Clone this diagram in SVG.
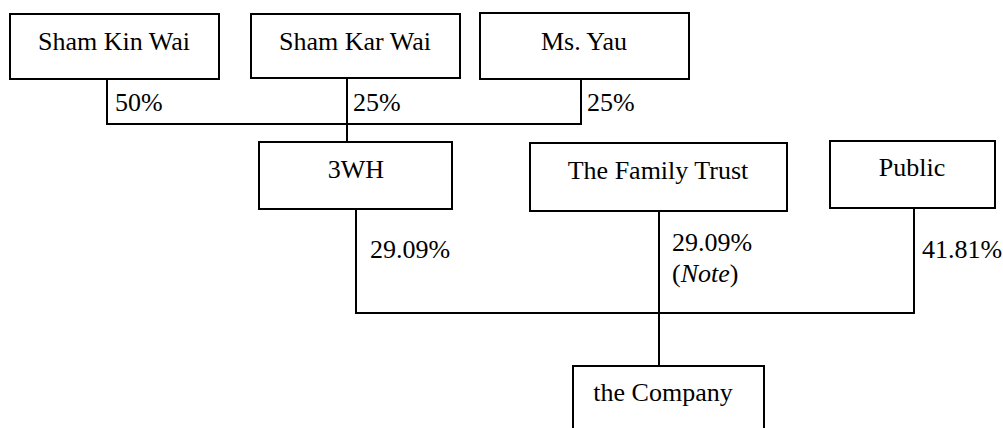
<svg xmlns="http://www.w3.org/2000/svg" width="1003" height="428" viewBox="0 0 1003 428">
<style>
.box{fill:#fff;stroke:#000;stroke-width:2}
.ln{fill:none;stroke:#000;stroke-width:2}
text{font-family:"Liberation Serif","Times New Roman",serif;font-size:26px;fill:#000}
.c{text-anchor:middle}
</style>
<rect width="1003" height="428" fill="#fff"/>
<g id="connectors">
<polyline class="ln" points="107,79 107,124 581,124 581,79"/>
<line class="ln" x1="347" y1="78" x2="347" y2="142"/>
<polyline class="ln" points="356,209 356,313 914,313 914,208"/>
<line class="ln" x1="659" y1="211" x2="659" y2="366"/>
<text x="115" y="111">50%</text>
<text x="353" y="111">25%</text>
<text x="587" y="111">25%</text>
<text x="370" y="258">29.09%</text>
<text x="672" y="251">29.09%</text>
<text x="672" y="282">(<tspan font-style="italic">Note</tspan>)</text>
<text x="922" y="258">41.81%</text>
</g>
<g id="sham-kin-wai"><rect class="box" x="10" y="14" width="209" height="65"/><text class="c" x="114" y="50">Sham Kin Wai</text></g>
<g id="sham-kar-wai"><rect class="box" x="251" y="14" width="209" height="64"/><text class="c" x="355" y="50">Sham Kar Wai</text></g>
<g id="ms-yau"><rect class="box" x="480" y="13" width="209" height="66"/><text class="c" x="584" y="50">Ms. Yau</text></g>
<g id="3wh"><rect class="box" x="259" y="142" width="193" height="67"/><text class="c" x="356" y="178">3WH</text></g>
<g id="family-trust"><rect class="box" x="530" y="143" width="257" height="68"/><text class="c" x="658" y="179">The Family Trust</text></g>
<g id="public"><rect class="box" x="830" y="141" width="165" height="67"/><text class="c" x="912" y="176">Public</text></g>
<g id="company"><rect class="box" x="573" y="366" width="191" height="70"/><text class="c" x="663" y="401">the Company</text></g>
</svg>
